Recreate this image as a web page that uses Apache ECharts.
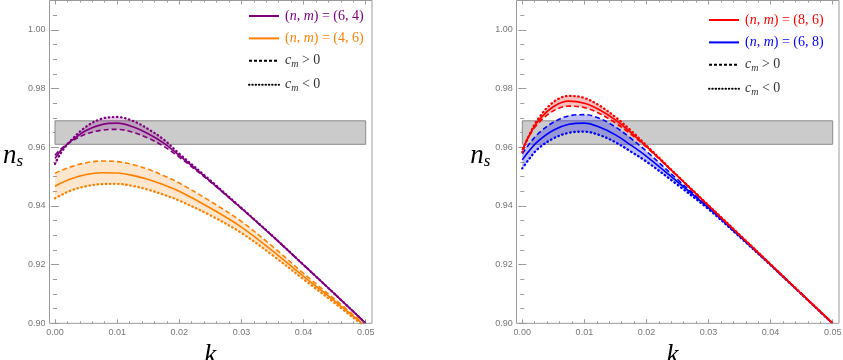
<!DOCTYPE html>
<html lang="en">
<head>
    <meta charset="UTF-8">
    <title>n_s vs k</title>
    <script src="https://cdn.jsdelivr.net/npm/echarts@6/dist/echarts.min.js"></script>
    <style>
        html, body { margin: 0; padding: 0; background: #fff; }
        #main { width: 843px; height: 360px; }
    </style>
</head>
<body>
<div id="main"></div>
<script type="text/javascript">
    // k samples shared by every curve
    var kValues = [0, 0.001, 0.0025, 0.005, 0.0075, 0.01, 0.0125, 0.015, 0.0175, 0.02, 0.025, 0.03, 0.035, 0.04, 0.045, 0.05];

    // (n,m) = (6,4)
    var p64Solid  = [0.9562, 0.9590, 0.9620, 0.9657, 0.9677, 0.9682, 0.9670, 0.9646, 0.9614, 0.9572, 0.9484, 0.9392, 0.9297, 0.9199, 0.9100, 0.9000];
    var p64Dashed = [0.9573, 0.9595, 0.9618, 0.9645, 0.9658, 0.9661, 0.9651, 0.9631, 0.9603, 0.9566, 0.9482, 0.9391, 0.9297, 0.9199, 0.9100, 0.9000];
    var p64Dotted = [0.9543, 0.9582, 0.9622, 0.9670, 0.9697, 0.9703, 0.9690, 0.9662, 0.9626, 0.9578, 0.9487, 0.9393, 0.9298, 0.9199, 0.9100, 0.9000];
    // (n,m) = (4,6)
    var p46Solid  = [0.9467, 0.9478, 0.9492, 0.9507, 0.9513, 0.9512, 0.9504, 0.9490, 0.9472, 0.9450, 0.9393, 0.9328, 0.9247, 0.9160, 0.9076, 0.8990];
    var p46Dashed = [0.9511, 0.9521, 0.9533, 0.9547, 0.9553, 0.9551, 0.9541, 0.9525, 0.9503, 0.9478, 0.9416, 0.9347, 0.9262, 0.9170, 0.9082, 0.8993];
    var p46Dotted = [0.9426, 0.9437, 0.9452, 0.9467, 0.9474, 0.9475, 0.9468, 0.9455, 0.9438, 0.9418, 0.9368, 0.9308, 0.9232, 0.9150, 0.9069, 0.8986];
    // (n,m) = (8,6)
    var p86Solid  = [0.9590, 0.9636, 0.9688, 0.9738, 0.9757, 0.9750, 0.9727, 0.9693, 0.9650, 0.9603, 0.9502, 0.9401, 0.9301, 0.9201, 0.9100, 0.9000];
    var p86Dashed = [0.9592, 0.9634, 0.9680, 0.9724, 0.9740, 0.9735, 0.9714, 0.9683, 0.9644, 0.9600, 0.9501, 0.9400, 0.9300, 0.9200, 0.9100, 0.9000];
    var p86Dotted = [0.9583, 0.9636, 0.9695, 0.9754, 0.9775, 0.9768, 0.9741, 0.9703, 0.9657, 0.9606, 0.9503, 0.9402, 0.9302, 0.9201, 0.9100, 0.9000];
    // (n,m) = (6,8)
    var p68Solid  = [0.9557, 0.9585, 0.9620, 0.9658, 0.9678, 0.9682, 0.9668, 0.9642, 0.9607, 0.9569, 0.9482, 0.9393, 0.9297, 0.9199, 0.9099, 0.8999];
    var p68Dashed = [0.9578, 0.9608, 0.9645, 0.9685, 0.9707, 0.9711, 0.9698, 0.9669, 0.9630, 0.9586, 0.9490, 0.9396, 0.9298, 0.9199, 0.9099, 0.8999];
    var p68Dotted = [0.9528, 0.9557, 0.9594, 0.9630, 0.9649, 0.9653, 0.9641, 0.9617, 0.9585, 0.9551, 0.9472, 0.9389, 0.9295, 0.9198, 0.9099, 0.8999];

    // observed n_s band
    var nsBand = [0.961, 0.969];

    // axis ranges / ticks
    var kMin = 0, kMax = 0.05, kStep = 0.01;
    var nsMin = 0.90, nsMax = 1.01, nsStep = 0.02;

    var PURPLE = '#800080', ORANGE = '#ff8000', RED = '#ff0000', BLUE = '#0000ff';
    var GRAY = '#9a9a9a';
    var SERIF = '"Liberation Serif", "DejaVu Serif", serif';

    var legendText = {
        'p64': '{r|(}{i|n}{r|, }{i|m}{r|) = (6, 4)}',
        'p46': '{r|(}{i|n}{r|, }{i|m}{r|) = (4, 6)}',
        'p86': '{r|(}{i|n}{r|, }{i|m}{r|) = (8, 6)}',
        'p68': '{r|(}{i|n}{r|, }{i|m}{r|) = (6, 8)}',
        'cmPos': '{i|c}{sub|m}{r| > 0}',
        'cmNeg': '{i|c}{sub|m}{r| < 0}'
    };

    function pts(ys) {
        return kValues.map(function (k, i) { return [k, ys[i]]; });
    }

    var dashType = [5, 3];
    var dotType = [0.5, 3.6];

    // shaded region between the c_m>0 and c_m<0 curves
    function fillSeries(fill, dashed, dotted, ax) {
        return {
            type: 'custom', xAxisIndex: ax, yAxisIndex: ax, silent: true, clip: true, z: 2,
            data: kValues.map(function (k, i) { return [k, dashed[i], dotted[i]]; }),
            encode: {x: 0, y: [1, 2]},
            renderItem: function (params, api) {
                if (params.dataIndex !== 0) return null;
                var up = kValues.map(function (k, i) { return api.coord([k, dashed[i]]); });
                var dn = kValues.map(function (k, i) { return api.coord([k, dotted[i]]); }).reverse();
                var all = up.concat(dn);
                var x0 = Infinity, y0 = Infinity, x1 = -Infinity, y1 = -Infinity;
                all.forEach(function (p) {
                    x0 = Math.min(x0, p[0]); x1 = Math.max(x1, p[0]);
                    y0 = Math.min(y0, p[1]); y1 = Math.max(y1, p[1]);
                });
                return {
                    type: 'polygon',
                    shape: {points: all, smooth: 0.3, smoothConstraint: [[x0, y0], [x1, y1]]},
                    style: {fill: fill}
                };
            }
        };
    }

    // one model: shaded band, then dotted, dashed, solid
    function group(key, color, fill, solid, dashed, dotted, ax) {
        var common = {type: 'line', xAxisIndex: ax, yAxisIndex: ax, symbol: 'none', smooth: 0.35, silent: true};
        return [
            fillSeries(fill, dashed, dotted, ax),
            Object.assign({}, common, {name: key + '_dot', data: pts(dotted), lineStyle: {color: color, width: 2.3, type: dotType, cap: 'round'}}),
            Object.assign({}, common, {name: key + '_dash', data: pts(dashed), lineStyle: {color: color, width: 1.6, type: dashType}}),
            Object.assign({}, common, {name: key, color: color, data: pts(solid), lineStyle: {color: color, width: 1.6}})
        ];
    }

    function bandSeries(ax) {
        return {
            type: 'line', xAxisIndex: ax, yAxisIndex: ax, data: [], silent: true,
            markArea: {
                silent: true,
                itemStyle: {color: '#cbcbcb', borderColor: '#8a8a8a', borderWidth: 1},
                data: [[{coord: [kMin, nsBand[0]]}, {coord: [kMax, nsBand[1]]}]]
            }
        };
    }

    function xAxes(grid, bottom) {
        return {
            gridIndex: grid, type: 'value', position: bottom ? 'bottom' : 'top',
            min: kMin, max: kMax, interval: kStep,
            axisLine: {show: false},
            axisTick: {show: true, inside: true, length: 4, lineStyle: {color: GRAY}},
            minorTick: {show: true, splitNumber: 5, length: 2, lineStyle: {color: GRAY}},
            splitLine: {show: false},
            axisLabel: {show: bottom, margin: 5, fontSize: 9, color: '#777', fontFamily: 'Liberation Sans, Arial, sans-serif',
                formatter: function (v) { return v.toFixed(2); }},
            name: bottom ? 'k' : '', nameLocation: 'middle', nameGap: 14,
            nameTextStyle: {fontFamily: SERIF, fontStyle: 'italic', fontSize: 27, color: '#000',
                padding: grid === 1 ? [0, 10, 0, 0] : 0}
        };
    }

    function yAxes(grid, left, off) {
        return {
            gridIndex: grid, type: 'value', position: left ? 'left' : 'right', offset: off,
            min: nsMin, max: nsMax, interval: nsStep,
            axisLine: {show: false},
            axisTick: {show: true, inside: true, length: 4, lineStyle: {color: GRAY}},
            minorTick: {show: true, splitNumber: 4, length: 2, lineStyle: {color: GRAY}},
            splitLine: {show: false},
            axisLabel: {show: left, margin: 4, fontSize: 9, color: '#777', showMaxLabel: false,
                fontFamily: 'Liberation Sans, Arial, sans-serif',
                formatter: function (v) { return v.toFixed(2); }},
            name: left ? '{n|n}{s|s}' : '', nameLocation: 'middle', nameRotate: 0, nameGap: 26,
            nameTextStyle: {
                color: '#000',
                padding: [0, 0, 12, 0],
                rich: {
                    n: {fontFamily: SERIF, fontStyle: 'italic', fontSize: 27, color: '#000'},
                    s: {fontFamily: SERIF, fontStyle: 'italic', fontSize: 17, color: '#000', padding: [12, 0, 0, 0]}
                }
            }
        };
    }

    function legendOf(left, top, a, colA, b, colB) {
        return {
            orient: 'vertical', left: left, top: top, selectedMode: false,
            itemWidth: 30, itemHeight: 14, itemGap: 8.4,
            itemStyle: {opacity: 0},
            data: [
                {name: a, textStyle: {color: colA}},
                {name: b, textStyle: {color: colB}},
                {name: 'cmPos', textStyle: {color: '#333'}},
                {name: 'cmNeg', textStyle: {color: '#333'}}
            ],
            formatter: function (name) { return legendText[name]; },
            textStyle: {
                padding: [0, 0, 0, 1],
                rich: {
                    r: {fontFamily: SERIF, fontSize: 14, lineHeight: 16},
                    i: {fontFamily: SERIF, fontStyle: 'italic', fontSize: 14, lineHeight: 16},
                    sub: {fontFamily: SERIF, fontStyle: 'italic', fontSize: 10, padding: [7, 0, 0, 0]}
                }
            }
        };
    }

    var series = [bandSeries(0), bandSeries(2)]
        .concat(group('p46', ORANGE, 'rgba(255,128,0,0.2)', p46Solid, p46Dashed, p46Dotted, 0))
        .concat(group('p64', PURPLE, 'rgba(128,0,128,0.2)', p64Solid, p64Dashed, p64Dotted, 0))
        .concat(group('p68', BLUE, 'rgba(0,0,255,0.25)', p68Solid, p68Dashed, p68Dotted, 2))
        .concat(group('p86', RED, 'rgba(255,0,0,0.25)', p86Solid, p86Dashed, p86Dotted, 2))
        .concat([
            {name: 'cmPos', type: 'line', xAxisIndex: 0, yAxisIndex: 0, data: [], symbol: 'none', color: '#000',
                lineStyle: {color: '#000', width: 1.6, type: [3, 2]}},
            {name: 'cmNeg', type: 'line', xAxisIndex: 0, yAxisIndex: 0, data: [], symbol: 'none', color: '#000',
                lineStyle: {color: '#000', width: 1.6, type: [0.5, 2.8], cap: 'round'}}
        ]);

    var chart = echarts.init(document.getElementById('main'), null, {renderer: 'canvas'});
    chart.setOption({
        animation: false,
        backgroundColor: '#fff',
        grid: [
            {left: 55, right: 477.3, top: 0.5, bottom: 36.7, outerBoundsMode: 'none'},
            {left: 522.3, right: 10.3, top: 0.5, bottom: 36.7, outerBoundsMode: 'none'}
        ],
        xAxis: [xAxes(0, true), xAxes(0, false), xAxes(1, true), xAxes(1, false)],
        yAxis: [yAxes(0, true, 5.5), yAxes(0, false, 6.3), yAxes(1, true, 5.6), yAxes(1, false, 6.3)],
        legend: [
            legendOf(243, 4, 'p64', PURPLE, 'p46', ORANGE),
            legendOf(703, 8, 'p86', RED, 'p68', BLUE)
        ],
        graphic: [
            {type: 'rect', silent: true, z: 10, shape: {x: 49.5, y: 0.5, width: 322.5, height: 322.8},
                style: {fill: 'none', stroke: GRAY, lineWidth: 1}},
            {type: 'rect', silent: true, z: 10, shape: {x: 516.5, y: 0.5, width: 322.5, height: 322.8},
                style: {fill: 'none', stroke: GRAY, lineWidth: 1}}
        ],
        series: series
    });
</script>
</body>
</html>
